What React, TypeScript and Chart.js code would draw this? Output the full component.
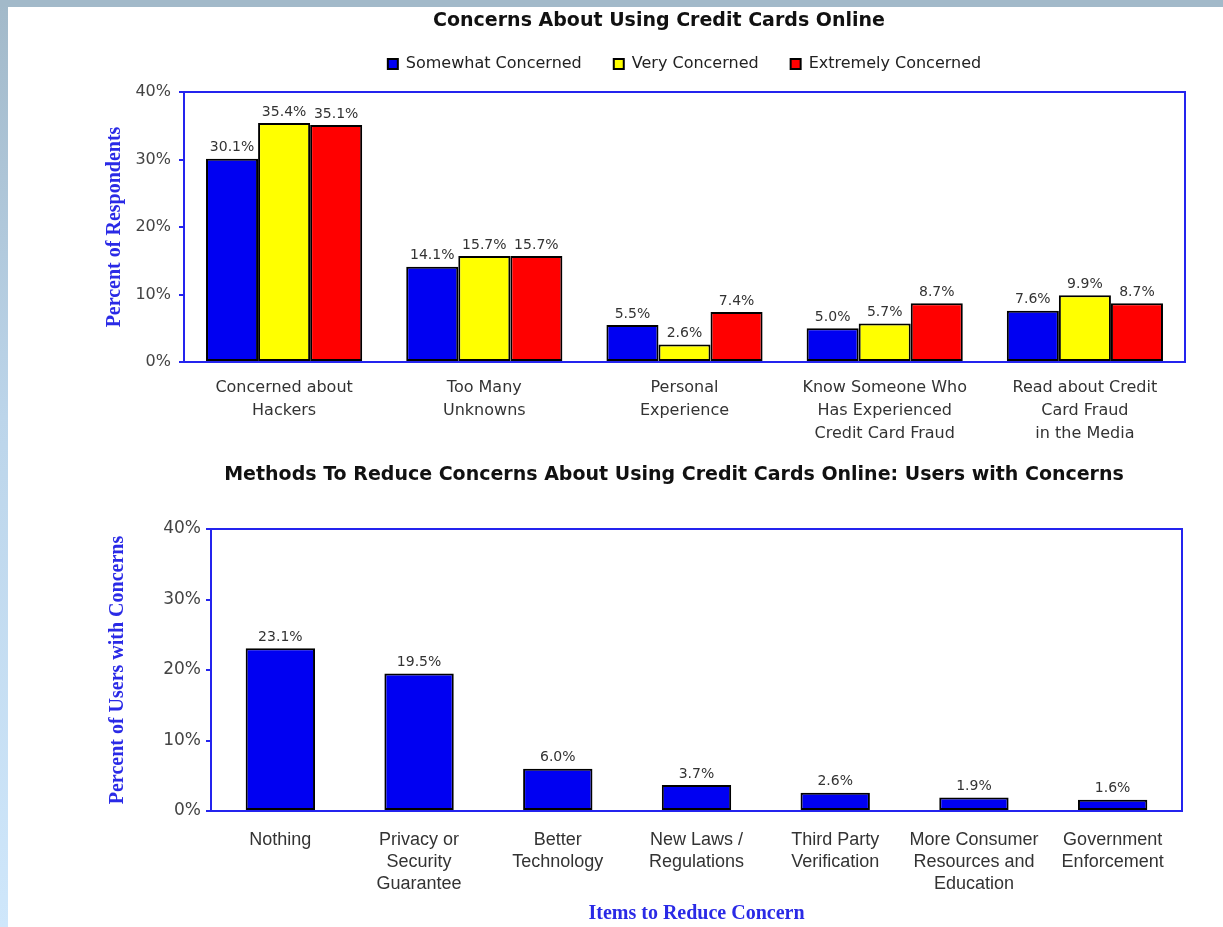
import React, { useEffect, useRef } from "react";
import { Chart, registerables } from "chart.js";

Chart.register(...registerables);

// ---------- Data ----------
const concernCategories: string[][] = [
  ["Concerned about", "Hackers"],
  ["Too Many", "Unknowns"],
  ["Personal", "Experience"],
  ["Know Someone Who", "Has Experienced", "Credit Card Fraud"],
  ["Read about Credit", "Card Fraud", "in the Media"],
];
const seriesNames = ["Somewhat Concerned", "Very Concerned", "Extremely Concerned"];
const somewhatConcerned = [30.1, 14.1, 5.5, 5.0, 7.6];
const veryConcerned = [35.4, 15.7, 2.6, 5.7, 9.9];
const extremelyConcerned = [35.1, 15.7, 7.4, 8.7, 8.7];

const methodCategories: (string | string[])[] = [
  "Nothing",
  ["Privacy or", "Security", "Guarantee"],
  ["Better", "Technology"],
  ["New Laws /", "Regulations"],
  ["Third Party", "Verification"],
  ["More Consumer", "Resources and", "Education"],
  ["Government", "Enforcement"],
];
const methodValues = [23.1, 19.5, 6.0, 3.7, 2.6, 1.9, 1.6];

const percentAxisMin = 0;
const percentAxisMax = 40;
const percentAxisStep = 10;

// ---------- Styles ----------
const AXIS_BLUE = "#2424ee";
const BAR_BLUE = "#0000f2";
const BAR_YELLOW = "#ffff00";
const BAR_RED = "#ff0000";
const SANS = "'DejaVu Sans', Verdana, sans-serif";
const SERIF = "'Liberation Serif', 'Times New Roman', serif";
const LABEL_SANS = "'Liberation Sans', Arial, sans-serif";

const fixedTitlePlugin = {
  id: "fixedTitle",
  afterDraw(chart: any, _args: any, opts: any) {
    if (!opts || !opts.text) return;
    const ctx = chart.ctx;
    ctx.save();
    ctx.font = opts.font;
    ctx.fillStyle = opts.color;
    ctx.textAlign = "center";
    ctx.textBaseline = "middle";
    ctx.fillText(opts.text, opts.x, opts.y);
    ctx.restore();
  },
};

const valueLabelPlugin = {
  id: "valueLabels",
  afterDatasetsDraw(chart: any, _args: any, opts: any) {
    const ctx = chart.ctx;
    ctx.save();
    ctx.font = opts.font;
    ctx.fillStyle = opts.color;
    ctx.textAlign = "center";
    ctx.textBaseline = "bottom";
    chart.data.datasets.forEach((ds: any, i: number) => {
      const meta = chart.getDatasetMeta(i);
      meta.data.forEach((el: any, j: number) => {
        const v = ds.data[j] as number;
        ctx.fillText(v.toFixed(1) + "%", el.x, el.y - opts.offset);
      });
    });
    ctx.restore();
  },
};

function frameAxes(topGap: number) {
  return {
    x2: {
      type: "category" as const,
      position: "top" as const,
      grid: { display: false },
      ticks: { display: false },
      border: { display: true, color: AXIS_BLUE, width: 2 },
      afterFit: (s: any) => {
        s.height = topGap;
      },
    },
    y2: {
      type: "linear" as const,
      position: "right" as const,
      min: percentAxisMin,
      max: percentAxisMax,
      grid: { display: false },
      ticks: { display: false },
      border: { display: true, color: AXIS_BLUE, width: 2 },
      afterFit: (s: any) => {
        s.width = 0;
      },
    },
  };
}

function TopChart() {
  const ref = useRef<HTMLCanvasElement | null>(null);
  useEffect(() => {
    if (!ref.current) return;
    const chart = new Chart(ref.current, {
      type: "bar",
      data: {
        labels: concernCategories,
        datasets: [
          { label: seriesNames[0], data: somewhatConcerned, backgroundColor: BAR_BLUE },
          { label: seriesNames[1], data: veryConcerned, backgroundColor: BAR_YELLOW },
          { label: seriesNames[2], data: extremelyConcerned, backgroundColor: BAR_RED },
        ].map((d) => ({
          ...d,
          borderColor: "#000",
          borderWidth: 2,
          borderSkipped: false,
          categoryPercentage: 0.78,
          barPercentage: 1.0,
          xAxisID: "x",
          yAxisID: "y",
        })),
      },
      plugins: [fixedTitlePlugin, valueLabelPlugin],
      options: {
        animation: false,
        responsive: false,
        events: [],
        layout: { padding: { top: 24, left: 0, right: 38, bottom: 0 } },
        plugins: {
          tooltip: { enabled: false },
          title: { display: false },
          legend: {
            display: true,
            position: "top",
            fullSize: false,
            labels: {
              boxWidth: 10,
              boxHeight: 10,
              padding: 32,
              color: "#222",
              font: { family: SANS, size: 16 },
            },
          },
          fixedTitle: {
            text: "Concerns About Using Credit Cards Online",
            x: 659,
            y: 21,
            font: `bold 19px ${SANS}`,
            color: "#111",
          },
          valueLabels: { font: `14px ${SANS}`, color: "#333", offset: 4 },
        } as any,
        scales: {
          x: {
            type: "category",
            position: "bottom",
            grid: { display: false },
            border: { display: true, color: AXIS_BLUE, width: 2 },
            ticks: {
              autoSkip: false,
              maxRotation: 0,
              minRotation: 0,
              padding: 6,
              color: "#333",
              font: { family: SANS, size: 16, lineHeight: "23px" },
            },
            afterFit: (s: any) => {
              s.height = 98;
            },
          },
          y: {
            type: "linear",
            position: "left",
            min: percentAxisMin,
            max: percentAxisMax,
            grid: {
              display: true,
              drawOnChartArea: false,
              drawTicks: true,
              tickLength: 5,
              color: AXIS_BLUE,
              lineWidth: 2,
            },
            border: { display: true, color: AXIS_BLUE, width: 2 },
            ticks: {
              stepSize: percentAxisStep,
              padding: 8,
              color: "#444",
              font: { family: SANS, size: 16 },
              callback: (v: any) => v + "%",
            },
            title: {
              display: true,
              text: "Percent of Respondents",
              color: "#2a2ae6",
              font: { family: SERIF, size: 20, weight: "bold" },
              padding: { top: 103, bottom: 0 },
            },
            afterFit: (s: any) => {
              s.width = 184;
            },
          },
          ...frameAxes(10),
        } as any,
      },
    });
    return () => chart.destroy();
  }, []);
  return (
    <canvas
      ref={ref}
      width={1223}
      height={460}
      style={{ position: "absolute", left: 0, top: 0, display: "block" }}
    />
  );
}

function BottomChart() {
  const ref = useRef<HTMLCanvasElement | null>(null);
  useEffect(() => {
    if (!ref.current) return;
    const chart = new Chart(ref.current, {
      type: "bar",
      data: {
        labels: methodCategories,
        datasets: [
          {
            label: "Users with Concerns",
            data: methodValues,
            backgroundColor: BAR_BLUE,
            borderColor: "#000",
            borderWidth: 2,
            borderSkipped: false,
            categoryPercentage: 1.0,
            barPercentage: 0.5,
            xAxisID: "x",
            yAxisID: "y",
          },
        ],
      },
      plugins: [fixedTitlePlugin, valueLabelPlugin],
      options: {
        animation: false,
        responsive: false,
        events: [],
        layout: { padding: { top: 69, left: 0, right: 41, bottom: 0 } },
        plugins: {
          tooltip: { enabled: false },
          title: { display: false },
          legend: { display: false },
          fixedTitle: {
            text: "Methods To Reduce Concerns About Using Credit Cards Online: Users with Concerns",
            x: 674,
            y: 15,
            font: `bold 19px ${SANS}`,
            color: "#111",
          },
          valueLabels: { font: `14px ${SANS}`, color: "#333", offset: 4 },
        } as any,
        scales: {
          x: {
            type: "category",
            position: "bottom",
            grid: { display: false },
            border: { display: true, color: AXIS_BLUE, width: 2 },
            ticks: {
              autoSkip: false,
              maxRotation: 0,
              minRotation: 0,
              padding: 10,
              color: "#333",
              font: { family: LABEL_SANS, size: 18, lineHeight: "22px" },
            },
            title: {
              display: true,
              text: "Items to Reduce Concern",
              color: "#2a2ae6",
              font: { family: SERIF, size: 20, weight: "bold" },
              padding: { top: 0, bottom: 1 },
            },
            afterFit: (s: any) => {
              s.height = 116;
            },
          },
          y: {
            type: "linear",
            position: "left",
            min: percentAxisMin,
            max: percentAxisMax,
            grid: {
              display: true,
              drawOnChartArea: false,
              drawTicks: true,
              tickLength: 5,
              color: AXIS_BLUE,
              lineWidth: 2,
            },
            border: { display: true, color: AXIS_BLUE, width: 2 },
            ticks: {
              stepSize: percentAxisStep,
              padding: 5,
              color: "#444",
              font: { family: SANS, size: 17 },
              callback: (v: any) => v + "%",
            },
            title: {
              display: true,
              text: "Percent of Users with Concerns",
              color: "#2a2ae6",
              font: { family: SERIF, size: 20, weight: "bold" },
              padding: { top: 106, bottom: 0 },
            },
            afterFit: (s: any) => {
              s.width = 211;
            },
          },
          ...frameAxes(0),
        } as any,
      },
    });
    return () => chart.destroy();
  }, []);
  return (
    <canvas
      ref={ref}
      width={1223}
      height={467}
      style={{ position: "absolute", left: 0, top: 460, display: "block" }}
    />
  );
}

export default function App() {
  return (
    <div
      style={{
        position: "fixed",
        left: 0,
        top: 0,
        width: 1223,
        height: 927,
        background: "#ffffff",
        overflow: "hidden",
      }}
    >
      <div
        style={{
          position: "absolute",
          left: 0,
          top: 0,
          width: 8,
          height: 927,
          background: "linear-gradient(to bottom, #a2b9c9 0%, #bcd5ea 45%, #cfe7fb 100%)",
        }}
      />
      <div
        style={{
          position: "absolute",
          left: 0,
          top: 0,
          width: 1223,
          height: 7,
          background: "#a2b9c9",
        }}
      />
      <TopChart />
      <BottomChart />
    </div>
  );
}
